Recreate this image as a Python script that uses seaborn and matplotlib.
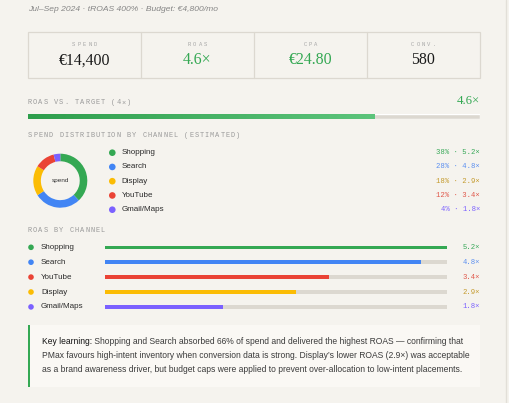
import matplotlib
matplotlib.use('Agg')
import numpy as np
import matplotlib.pyplot as plt
import seaborn as sns
from matplotlib.patches import Rectangle, Circle

# Data
subtitle = 'Jul\u2013Sep 2024 \u00b7 tROAS 400% \u00b7 Budget: \u20ac4,800/mo'
kpi_labels = ['SPEND', 'ROAS', 'CPA', 'CONV.']
kpi_values = ['\u20ac14,400', '4.6\u00d7', '\u20ac24.80', '580']
kpi_green = [False, True, True, False]

roas_total = 4.6
roas_target = 4
roas_scale_max = 6

spend_channels = ['Shopping', 'Search', 'Display', 'YouTube', 'Gmail/Maps']
spend_share = [38, 28, 18, 12, 4]
spend_roas = [5.2, 4.8, 2.9, 3.4, 1.8]

roas_channels = ['Shopping', 'Search', 'YouTube', 'Display', 'Gmail/Maps']
roas_values = [5.2, 4.8, 3.4, 2.9, 1.8]

note_bold = 'Key learning:'
note_lines = [
    ' Shopping and Search absorbed 66% of spend and delivered the highest ROAS \u2014 confirming that',
    'PMax favours high-intent inventory when conversion data is strong. Display\u2019s lower ROAS (2.9\u00d7) was acceptable',
    'as a brand awareness driver, but budget caps were applied to prevent over-allocation to low-intent placements.',
]

# Style
colors = {'Shopping': '#34a853', 'Search': '#4285f4', 'Display': '#fbbc04',
          'YouTube': '#ea4335', 'Gmail/Maps': '#7b61ff'}
text_colors = {'Shopping': '#3aa95a', 'Search': '#5b8ff0', 'Display': '#c49a2c',
               'YouTube': '#e0574a', 'Gmail/Maps': '#7b61ff'}
bg = '#f5f3ee'
track = '#dcd8d0'
SANS = 'Liberation Sans'
SERIF = 'Liberation Serif'
MONO = 'Liberation Mono'

sns.set_style('white')
plt.rcParams['font.family'] = [SANS, 'DejaVu Sans']

W, H = 509, 403
fig = plt.figure(figsize=(W / 100, H / 100), dpi=100, facecolor=bg)


def box(x, y, w, h):
    return [x / W, 1 - (y + h) / H, w / W, h / H]


base = fig.add_axes([0, 0, 1, 1])
base.set_xlim(0, W)
base.set_ylim(H, 0)
base.axis('off')
base.set_facecolor(bg)


def spaced(x, y, s, step=5.2, size=5.0, color='#9a9a9a', center=False):
    if center:
        x = x - (len(s) - 1) * step / 2
    for i, ch in enumerate(s):
        base.text(x + i * step, y, ch, fontsize=size, family=MONO, color=color,
                  ha='center', va='center')


# right edge line
base.plot([506, 506], [0, H], color='#e2dfd8', lw=1)

# subtitle
base.text(28, 9.5, subtitle, fontsize=6.1, style='italic', color='#858585', va='center')

# KPI cards
base.add_patch(Rectangle((28, 32.3), 452, 46, fill=False, ec='#dcd8d0', lw=0.9))
cell = 452 / 4
for i in range(4):
    if i > 0:
        base.plot([28 + i * cell] * 2, [32.3, 78.3], color='#dcd8d0', lw=0.9)
    cx = 28 + (i + 0.5) * cell
    spaced(cx, 44, kpi_labels[i], step=5.5, size=4.0, color='#a8a8a8', center=True)
    base.text(cx, 60.5, kpi_values[i], fontsize=11.4, family=SERIF, ha='center', va='center',
              color='#34a853' if kpi_green[i] else '#1a1a1a')

# ROAS vs target
spaced(30, 103, 'ROAS VS. TARGET (%d\u00d7)' % roas_target)
base.text(480, 101.5, '%.1f\u00d7' % roas_total, fontsize=9.2, family=SERIF, color='#34a853',
          ha='right', va='center')
tax = fig.add_axes(box(28, 114.3, 452, 4.7))
tax.barh([0], [roas_scale_max], height=1, color=track)
grad = np.linspace(0, 1, 256).reshape(1, -1)
cmap = matplotlib.colors.LinearSegmentedColormap.from_list('g', ['#2e9e4c', '#5cc47b'])
tax.imshow(grad, extent=[0, roas_total, -0.5, 0.5], aspect='auto', cmap=cmap, zorder=3)
tax.set_xlim(0, roas_scale_max)
tax.set_ylim(-0.5, 0.5)
tax.axis('off')

# spend distribution
spaced(30, 135.7, 'SPEND DISTRIBUTION BY CHANNEL (ESTIMATED)')
pax = fig.add_axes(box(60.3 - 27, 180.7 - 27, 54, 54))
pax.pie(spend_share, colors=[colors[c] for c in spend_channels], startangle=90,
        counterclock=False, wedgeprops=dict(width=0.28, linewidth=0))
pax.set_xlim(-1, 1)
pax.set_ylim(-1, 1)
pax.set_aspect('equal')
pax.text(0, 0, 'spend', fontsize=4.6, ha='center', va='center', color='#333333')

for i, ch in enumerate(spend_channels):
    y = 152.7 + i * 14.25
    base.add_patch(Circle((112.3, y), 3.3, color=colors[ch], lw=0))
    base.text(121.7, y, ch, fontsize=5.8, color='#2b2b2b', va='center')
    base.text(480, y, '%d%% \u00b7 %.1f\u00d7' % (spend_share[i], spend_roas[i]), fontsize=5.2,
              family=MONO, color=text_colors[ch], ha='right', va='center')

# ROAS by channel
spaced(30, 230.7, 'ROAS BY CHANNEL')
row = 14.9
top = 247.3 - row / 2
bax = fig.add_axes(box(104.7, top, 447.3 - 104.7, row * 5))
sns.barplot(x=[max(roas_values)] * len(roas_channels), y=roas_channels, color=track,
            width=0.24, ax=bax, saturation=1, linewidth=0)
sns.barplot(x=roas_values, y=roas_channels, hue=roas_channels, palette=colors,
            width=0.24, ax=bax, legend=False, saturation=1, linewidth=0)
bax.set_xlim(0, max(roas_values))
bax.set_ylim(4.5, -0.5)
bax.axis('off')
for i, ch in enumerate(roas_channels):
    y = 247.3 + i * row
    base.add_patch(Circle((31, y), 2.8, color=colors[ch], lw=0))
    base.text(41, y, ch, fontsize=5.8, color='#2b2b2b', va='center')
    base.text(480, y, '%.1f\u00d7' % roas_values[i], fontsize=5.2, family=MONO,
              color=text_colors[ch], ha='right', va='center')

# key learning box
fs = 6.15
base.add_patch(Rectangle((28, 325), 452, 61.7, color='#faf8f4', lw=0))
base.add_patch(Rectangle((28, 325), 2, 61.7, color='#34a853', lw=0))
t = base.text(41.7, 341, note_bold, fontsize=fs, color='#111111', va='center')
fig.canvas.draw()
bb = t.get_window_extent()
base.text(41.7 + bb.width, 341, note_lines[0], fontsize=fs, color='#3a3a3a', va='center')
base.text(41.7, 355.7, note_lines[1], fontsize=fs, color='#3a3a3a', va='center')
base.text(41.7, 369.5, note_lines[2], fontsize=fs, color='#3a3a3a', va='center')

fig.savefig('out.png', dpi=100, facecolor=bg)
